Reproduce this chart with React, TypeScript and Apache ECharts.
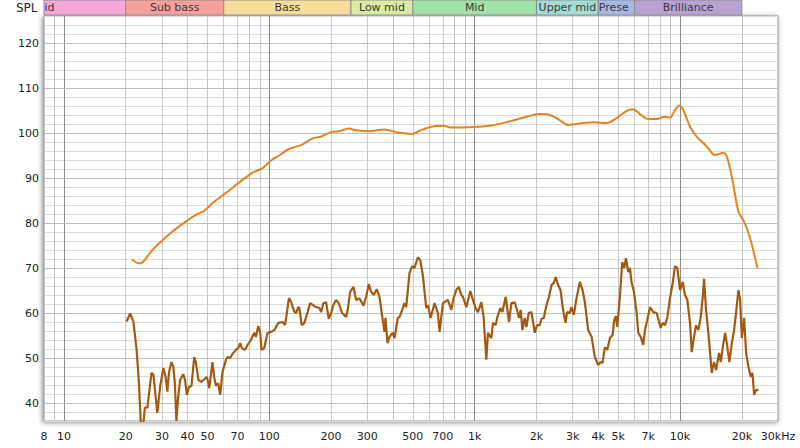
import React, { useEffect, useRef } from "react";
import * as echarts from "echarts";

// Axis / band definitions
const gridFreqs = [8, 9, 10, 20, 30, 40, 50, 60, 70, 80, 90, 100, 200, 300, 400, 500, 600, 700, 800, 900, 1000, 2000, 3000, 4000, 5000, 6000, 7000, 8000, 9000, 10000, 20000, 30000];
const decadeFreqs = [10, 100, 1000, 10000];
const labelFreqs = [8, 10, 20, 30, 40, 50, 70, 100, 200, 300, 500, 700, 1000, 2000, 3000, 4000, 5000, 7000, 10000, 20000, 30000];
const labelTexts = ["8", "10", "20", "30", "40", "50", "70", "100", "200", "300", "500", "700", "1k", "2k", "3k", "4k", "5k", "7k", "10k", "20k", "30kHz"];
const splTicks = [40, 50, 60, 70, 80, 90, 100, 110, 120];

const bandNames = ["id", "Sub bass", "Bass", "Low mid", "Mid", "Upper mid", "Prese", "Brilliance"];
const bandStarts = [8, 20, 60, 250, 500, 2000, 4000, 6000];
const bandEnds = [20, 60, 250, 500, 2000, 4000, 6000, 20000];
const bandColors = ["#f7a6d9", "#f6a09b", "#f8dc9c", "#d9eca2", "#a2e2a6", "#a4dcd6", "#a7b8e6", "#b9a2d2"];

// Upper (orange) curve
const upperFreq = [21.4, 23.4, 24.6, 26.5, 29.1, 33.8, 39.2, 43.9, 48.2, 52.9, 61.5, 71.4, 82.9, 92.8, 101.9, 111.9, 125.2, 142.8, 162.7, 178.8, 200, 219.5, 243.7, 264.9, 307.5, 363.9, 422.5, 496.7, 539.1, 614.9, 700.5, 783.6, 945.4, 1184, 1428, 1720, 2076, 2323, 2549, 2852, 3376, 3777, 4389, 4912, 5495, 5919, 6381, 7004, 7697, 8449, 8938, 9454, 9922, 10377, 11188, 12061, 13500, 14819, 16266, 17014, 18197, 19250, 20523, 21950, 23830];
const upperSpl = [71.9, 71.0, 71.6, 73.6, 75.5, 78.1, 80.3, 81.8, 82.7, 84.4, 86.7, 89.0, 91.2, 92.2, 93.9, 95.0, 96.5, 97.3, 98.8, 99.2, 100.2, 100.4, 101.0, 100.6, 100.4, 100.8, 100.1, 99.8, 100.5, 101.4, 101.6, 101.2, 101.3, 101.6, 102.4, 103.4, 104.2, 104.0, 103.1, 101.8, 102.2, 102.4, 102.2, 103.3, 104.9, 105.3, 104.2, 103.1, 103.1, 103.6, 103.4, 105.1, 106.1, 105.1, 101.4, 99.2, 97.0, 95.1, 95.6, 94.4, 88.4, 82.5, 80.3, 76.6, 70.0];

// Lower (brown) curve
const lowerFreq = [20.2, 21.0, 21.8, 22.6, 23.2, 23.7, 24.4, 24.8, 25.5, 26.7, 27.3, 28.5, 29.4, 30.5, 31.3, 31.9, 32.5, 33.4, 34.1, 34.7, 35.3, 36.0, 36.8, 38.1, 38.9, 39.7, 40.7, 41.8, 43.1, 43.9, 45.2, 46.7, 47.8, 49.7, 51.0, 52.9, 53.9, 55.0, 56.4, 57.7, 59.2, 61.5, 62.6, 64.5, 66.2, 68.8, 70.6, 72.2, 73.6, 76.1, 78.4, 81.4, 84.5, 86.1, 88.4, 90.4, 91.7, 94.5, 98.1, 101.9, 105.8, 110.6, 116.1, 119.3, 122.0, 124.2, 125.2, 127.6, 132.4, 135.0, 138.5, 140.1, 143.8, 148.2, 153.8, 158.0, 162.7, 169.0, 175.4, 178.8, 183.4, 189.1, 194.7, 200.0, 205.2, 211.6, 217.8, 226.3, 236.7, 241.0, 247.6, 257.0, 264.9, 274.8, 287.4, 296.3, 305.1, 313.4, 322.7, 333.7, 344.0, 357.0, 363.9, 368.0, 376.3, 384.9, 399.4, 407.1, 422.5, 430.6, 443.9, 455.5, 464.3, 481.8, 496.7, 509.7, 528.9, 543.4, 559.5, 581.3, 591.9, 610.1, 638.1, 662.2, 675.0, 700.5, 741.0, 769.7, 790, 814, 838, 861, 877, 911, 953, 981, 1011, 1038, 1078, 1106, 1140, 1161, 1206, 1228, 1266, 1290, 1335, 1365, 1417, 1470, 1510, 1567, 1608, 1645, 1676, 1709, 1753, 1787, 1834, 1891, 1962, 2014, 2076, 2116, 2171, 2238, 2304, 2367, 2429, 2484, 2549, 2618, 2696, 2770, 2820, 2907, 2963, 3041, 3134, 3253, 3353, 3441, 3570, 3710, 3850, 3994, 4104, 4197, 4306, 4419, 4555, 4695, 4781, 4873, 4945, 5097, 5231, 5350, 5454, 5596, 5704, 5814, 5966, 6150, 6262, 6433, 6622, 6750, 6926, 7140, 7410, 7697, 8052, 8234, 8449, 8670, 8938, 9214, 9454, 9702, 10000, 10308, 10578, 10853, 11188, 11404, 11701, 11967, 12280, 12618, 12903, 13095, 13391, 13740, 14276, 14652, 14985, 15497, 15796, 16156, 16579, 16899, 17400, 17875, 18342, 18760, 19250, 19620, 20000, 20523, 20990, 21540, 22130, 22530, 22960, 23480, 24100];
const lowerSpl = [58.1, 59.9, 58.1, 51.8, 44.4, 35.1, 35.6, 39.0, 39.0, 46.7, 46.2, 37.8, 43.6, 47.8, 45.8, 42.5, 46.9, 49.1, 48.0, 44.4, 36.0, 41.3, 45.1, 46.4, 45.1, 41.8, 43.6, 43.8, 50.2, 49.1, 45.1, 44.7, 45.1, 45.8, 43.3, 49.1, 45.8, 43.8, 44.4, 41.8, 46.9, 49.6, 50.2, 50.0, 50.9, 51.8, 52.2, 53.3, 52.2, 51.8, 52.9, 54.0, 55.6, 54.7, 57.1, 55.6, 51.8, 52.2, 55.6, 55.8, 56.2, 57.8, 58.0, 57.3, 60.2, 62.9, 63.3, 62.5, 60.3, 60.0, 61.3, 61.1, 57.3, 57.8, 60.2, 62.2, 61.8, 61.3, 61.1, 60.2, 62.2, 62.4, 58.7, 60.0, 61.8, 62.9, 62.2, 60.0, 59.1, 60.7, 64.7, 65.8, 62.9, 63.3, 61.6, 63.6, 66.4, 64.7, 64.0, 65.3, 63.6, 58.4, 55.8, 58.9, 53.3, 54.7, 55.6, 54.4, 58.9, 59.1, 60.7, 62.2, 61.3, 68.9, 70.4, 70.0, 72.4, 71.8, 68.4, 61.1, 61.8, 58.9, 62.2, 60.0, 55.8, 62.2, 62.9, 60.7, 63.3, 65.1, 65.8, 64.0, 63.6, 61.3, 64.9, 62.9, 61.1, 60.2, 62.4, 59.1, 49.6, 55.6, 54.4, 57.8, 57.3, 59.1, 61.1, 60.2, 63.6, 58.0, 62.2, 62.4, 60.7, 58.9, 60.7, 56.2, 58.9, 56.9, 60.0, 60.2, 55.6, 57.3, 57.3, 58.7, 58.9, 61.8, 63.6, 66.2, 66.7, 68.0, 66.2, 65.1, 60.7, 57.8, 60.2, 60.0, 61.3, 59.6, 63.3, 66.9, 65.1, 62.4, 56.2, 54.7, 50.2, 48.4, 49.1, 48.9, 52.4, 51.8, 54.4, 55.1, 58.4, 59.3, 56.9, 63.6, 71.3, 70.0, 72.2, 69.1, 70.0, 66.7, 64.7, 60.0, 55.6, 54.7, 52.9, 56.2, 58.4, 61.3, 60.2, 60.0, 56.7, 57.8, 57.3, 58.9, 63.3, 66.7, 70.4, 70.0, 65.1, 66.9, 64.0, 62.9, 57.8, 51.3, 54.7, 57.3, 56.2, 59.1, 63.6, 67.6, 60.7, 55.6, 46.7, 49.1, 47.3, 51.1, 49.1, 52.4, 55.6, 53.3, 49.1, 53.3, 56.2, 60.2, 65.1, 62.9, 54.4, 58.9, 51.1, 48.0, 45.8, 46.7, 41.8, 42.9, 42.9];

const FONT = "DejaVu Sans";

export default function App() {
  const ref = useRef<HTMLDivElement>(null);
  useEffect(() => {
    if (!ref.current) return;
    const chart = echarts.init(ref.current, undefined, { renderer: "svg" });

    const vLines = gridFreqs.map((f) => {
      const li = labelFreqs.indexOf(f);
      const isDecade = decadeFreqs.indexOf(f) >= 0;
      return {
        xAxis: f,
        lineStyle: { color: isDecade ? "#8a8a8a" : "#c6c6c6", width: 1, type: "solid" },
        label:
          li >= 0
            ? { show: true, position: "start", formatter: labelTexts[li], color: "#222", fontSize: 11, fontFamily: FONT, distance: 10 }
            : { show: false },
      };
    });
    const hLines = splTicks.map((v) => ({
      yAxis: v,
      lineStyle: { color: "#bdbdbd", width: 1, type: "solid" },
      label: { show: false },
    }));

    const bandData = bandNames.map((n, i) => [
      {
        xAxis: bandStarts[i],
        itemStyle: { color: bandColors[i], borderColor: "#8e8e8e", borderWidth: 1 },
        label: {
          show: true,
          position: i === 0 || i === 6 ? "insideLeft" : "inside",
          distance: 1,
          formatter: n,
          color: "#3a3a3a",
          fontSize: 11,
          fontFamily: FONT,
        },
      },
      { xAxis: bandEnds[i] },
    ]);

    const option: any = {
      animation: false,
      backgroundColor: "#ffffff",
      textStyle: { fontFamily: FONT },
      grid: [
        {
          left: 44,
          right: 22,
          top: 16,
          height: 405,
          show: true,
          backgroundColor: "#ffffff",
          borderColor: "#8c8c8c",
          borderWidth: 1,
          shadowBlur: 5,
          shadowColor: "rgba(0,0,0,0.5)",
          shadowOffsetX: -1,
          shadowOffsetY: 1,
        },
        { left: 44, right: 22, top: 0, height: 15 },
      ],
      xAxis: [
        {
          gridIndex: 0,
          type: "log",
          logBase: 10,
          min: 8,
          max: 30000,
          axisLine: { show: false },
          axisTick: { show: false },
          axisLabel: { show: false },
          splitLine: { show: false },
        },
        {
          gridIndex: 1,
          type: "log",
          logBase: 10,
          min: 8,
          max: 30000,
          show: false,
        },
      ],
      yAxis: [
        {
          gridIndex: 0,
          type: "value",
          min: 36,
          max: 126,
          interval: 2,
          axisLine: { show: false },
          axisTick: { show: false },
          axisLabel: {
            formatter: (v: number) => (v % 10 === 0 ? String(v) : ""),
            color: "#222",
            fontSize: 11,
            fontFamily: FONT,
            margin: 5,
          },
          splitLine: { lineStyle: { color: "#dcdcdc", width: 1 } },
        },
        { gridIndex: 1, type: "value", min: 0, max: 1, show: false },
      ],
      graphic: [
        {
          type: "text",
          left: 16,
          top: 2,
          style: { text: "SPL", fontSize: 12, fontFamily: FONT, fill: "#222" },
        },
      ],
      series: [
        {
          type: "line",
          xAxisIndex: 0,
          yAxisIndex: 0,
          data: [],
          z: 1,
          silent: true,
          markLine: { silent: true, symbol: ["none", "none"], animation: false, data: [...vLines, ...hLines] },
        },
        {
          type: "line",
          xAxisIndex: 1,
          yAxisIndex: 1,
          data: [],
          silent: true,
          markArea: { silent: true, animation: false, data: bandData },
        },
        {
          type: "line",
          xAxisIndex: 0,
          yAxisIndex: 0,
          data: upperFreq.map((f, i) => [f, upperSpl[i]]),
          symbol: "none",
          smooth: 0.3,
          lineStyle: { color: "#e4831d", width: 2 },
          z: 5,
        },
        {
          type: "line",
          xAxisIndex: 0,
          yAxisIndex: 0,
          data: lowerFreq.map((f, i) => [f, lowerSpl[i]]),
          symbol: "none",
          lineStyle: { color: "#a35a10", width: 2.2 },
          z: 6,
        },
      ],
    };
    chart.setOption(option);
    return () => chart.dispose();
  }, []);
  return <div ref={ref} style={{ position: "fixed", left: 0, top: 0, width: 800, height: 448 }} />;
}
